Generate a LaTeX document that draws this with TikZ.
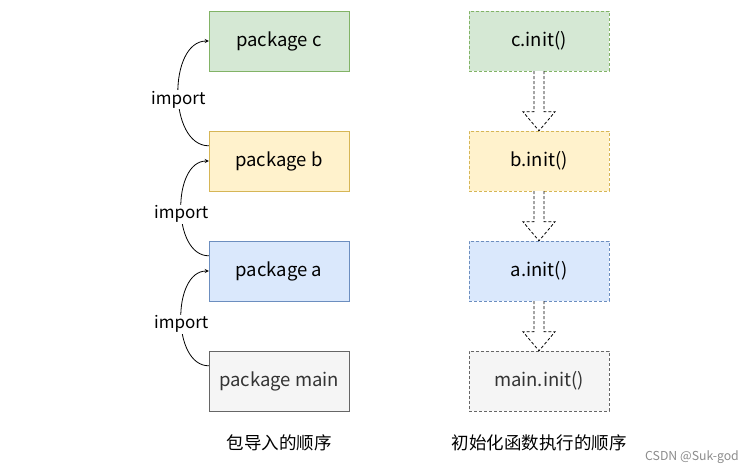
\documentclass[tikz,border=0pt]{standalone}
\usepackage{fontspec}
\setmainfont{Noto Sans CJK SC}
\usepackage{tikz}
\usetikzlibrary{calc}
\definecolor{greenfill}{HTML}{D5E8D4}
\definecolor{greenline}{HTML}{82B366}
\definecolor{yellowfill}{HTML}{FFF2CC}
\definecolor{yellowline}{HTML}{D6B656}
\definecolor{bluefill}{HTML}{DAE8FC}
\definecolor{blueline}{HTML}{6C8EBF}
\definecolor{greyfill}{HTML}{F5F5F5}
\definecolor{greyline}{HTML}{666666}
\definecolor{greytext}{HTML}{333333}

\begin{document}
\begin{tikzpicture}[x=1pt, y=-1pt,
  pkg/.style={draw, minimum width=140, minimum height=60, inner sep=0,
    font=\fontsize{18.5}{22}\selectfont},
  initbox/.style={pkg, dashed, dash pattern=on 3pt off 2pt},
  imp/.style={->, >=stealth, line width=0.8pt},
  implabel/.style={fill=white, inner sep=1, pos=0.46, font=\fontsize{17}{20}\selectfont},
  blockarrow/.style={draw=black, line width=0.8pt, dash pattern=on 3pt off 2pt, fill=white}]
  \useasboundingbox (0, 0) rectangle (755, 474);

  % left column: import order
  \node[pkg, fill=greenfill, draw=greenline] (c) at (279, 41) {package c};
  \node[pkg, fill=yellowfill, draw=yellowline] (b) at (279, 161) {package b};
  \node[pkg, fill=bluefill, draw=blueline] (a) at (279, 271) {package a};
  \node[pkg, fill=greyfill, draw=greyline, text=greytext] (main) at (279, 381) {package main};

  \draw[imp] ($(b.north west)+(0, 15)$) to[out=180, in=180]
    node[implabel] {import} (c.west);
  \draw[imp] ($(a.north west)+(0, 15)$) to[out=180, in=180]
    node[implabel] {import} (b.west);
  \draw[imp] ($(main.north west)+(0, 15)$) to[out=180, in=180]
    node[implabel] {import} (a.west);

  % right column: init order
  \node[initbox, fill=greenfill, draw=greenline] (c2) at (539, 41) {c.init()};
  \node[initbox, fill=yellowfill, draw=yellowline] (b2) at (539, 161) {b.init()};
  \node[initbox, fill=bluefill, draw=blueline] (a2) at (539, 271) {a.init()};
  \node[initbox, fill=greyfill, draw=greyline, text=greytext] (main2) at (539, 381) {main.init()};

  \foreach \from/\to in {c2/b2, b2/a2, a2/main2} {
    \path[blockarrow] ($(\from.south)+(-5, 0)$) -- ($(\to.north)+(-5, -19)$)
      -- ($(\to.north)+(-16, -19)$) -- (\to.north) -- ($(\to.north)+(16, -19)$)
      -- ($(\to.north)+(5, -19)$) -- ($(\from.south)+(5, 0)$);
  }

  % captions
  \node[font=\fontsize{17.5}{21}\selectfont] (cap1) at (279, 443) {包导入的顺序};
  \node[font=\fontsize{17.5}{21}\selectfont] (cap2) at (539, 443) {初始化函数执行的顺序};
  \node[font=\fontsize{12.3}{14}\selectfont, text=black!45] (mark) at (692, 457) {CSDN @Suk-god};
\end{tikzpicture}
\end{document}
